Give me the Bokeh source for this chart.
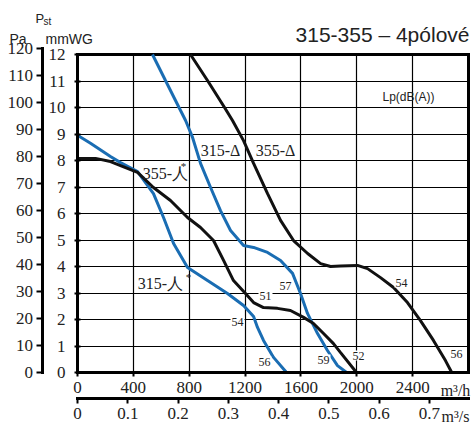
from bokeh.plotting import figure
from bokeh.models import Range1d, LinearAxis, Label, FixedTicker, Grid
from bokeh.embed import file_html
from bokeh.resources import INLINE

# ---------------- data ----------------
# airflow q [m3/h] vs static pressure [mmWG]
q_315_tri = [537, 630, 727, 774, 824, 881, 953, 1024, 1096, 1189, 1261, 1361, 1454,
             1540, 1597, 1647, 1719, 1790, 1862, 1927]
p_315_tri = [12.0, 11.02, 10.0, 9.51, 8.87, 7.89, 6.98, 6.11, 5.36, 4.79, 4.72, 4.53, 4.23,
             3.74, 2.98, 2.23, 1.47, 0.83, 0.26, 0.0]

q_355_tri = [809, 931, 1053, 1110, 1189, 1261, 1361, 1454, 1547, 1648, 1741, 1812, 1884,
             2005, 2077, 2170, 2263, 2363, 2456, 2549, 2635, 2680]
p_355_tri = [12.0, 11.02, 10.0, 9.51, 8.75, 7.89, 6.75, 5.74, 4.98, 4.49, 4.11, 4.0, 4.02,
             4.04, 3.92, 3.58, 3.21, 2.64, 1.96, 1.21, 0.45, 0.0]

q_315_star = [0, 93, 236, 308, 430, 544, 616, 688, 788, 931, 1074, 1189, 1261, 1289,
              1332, 1404, 1497]
p_315_star = [8.95, 8.65, 8.15, 7.92, 7.58, 6.75, 5.85, 4.87, 3.96, 3.47, 2.98, 2.53, 2.11, 1.70,
              1.21, 0.57, 0.0]

q_355_star = [0, 129, 236, 308, 430, 544, 666, 788, 881, 974, 1046, 1117, 1203, 1261, 1332,
              1432, 1525, 1619, 1690, 1762, 1833, 1884, 1998]
p_355_star = [8.08, 8.08, 7.96, 7.81, 7.55, 6.98, 6.49, 5.85, 5.47, 4.98, 4.23, 3.47, 2.98, 2.64,
              2.45, 2.42, 2.34, 2.08, 1.85, 1.47, 1.09, 0.75, 0.0]

# ticks
q_ticks = [0, 400, 800, 1200, 1600, 2000, 2400]
q_grid = [400, 800, 1200, 1600, 2000, 2400]
ms_ticks = [0, 0.1, 0.2, 0.3, 0.4, 0.5, 0.6, 0.7]
mm_ticks = list(range(0, 13))
mm_grid = list(range(1, 12))
pa_ticks = list(range(0, 130, 10))

Q_MAX = 2800
MM_MAX = 12
PA_MAX = 120
MMWG_TO_PA = 9.80665
M3H_TO_M3S = 1 / 3600

BLUE = "#1a6db3"
BLACK = "#111111"
TXT = "#222222"
NARROW = "Liberation Sans Narrow"
SANS = "Liberation Sans"

# page geometry: the figure fills the page; the chart box is placed inside it
W, H = 471, 429
PAGE_X0, PAGE_Y0 = 0, 0
BOX_X0, BOX_X1, BOX_Y0, BOX_Y1 = 77, 468, 54, 372   # page pixels of (0,12) .. (2800,0)
KX = Q_MAX / (BOX_X1 - BOX_X0)
KY = MM_MAX / (BOX_Y1 - BOX_Y0)
X0 = (PAGE_X0 - BOX_X0) * KX
X1 = (PAGE_X0 + W - BOX_X0) * KX
Y0 = (BOX_Y1 - (PAGE_Y0 + H)) * KY
Y1 = (BOX_Y1 - PAGE_Y0) * KY


def at(ix, iy):
    """page pixel -> data coordinates"""
    return ((ix - BOX_X0) * KX, (BOX_Y1 - iy) * KY)


p = figure(width=W, height=H, x_range=Range1d(X0, X1), y_range=Range1d(Y0, Y1),
           output_backend="svg", toolbar_location=None,
           x_axis_location=None, y_axis_location=None,
           min_border=0)
p.grid.visible = False
p.outline_line_color = None
p.background_fill_color = "white"
p.border_fill_color = "white"
p.extra_y_ranges = {"pa": Range1d(Y0 * MMWG_TO_PA, Y1 * MMWG_TO_PA)}
p.extra_x_ranges = {"ms": Range1d(X0 * M3H_TO_M3S, X1 * M3H_TO_M3S)}

# ---- grid and borders ----
for dim, ticks, cb, lw in [(0, q_grid, (0, MM_MAX), 1.2), (1, mm_grid, (0, Q_MAX), 1.2),
                           (0, [Q_MAX], (0, MM_MAX), 3), (1, [MM_MAX], (0, Q_MAX), 3)]:
    g = Grid(dimension=dim, ticker=FixedTicker(ticks=ticks), cross_bounds=cb,
             grid_line_color="black", grid_line_width=lw, grid_line_cap="square")
    p.add_layout(g)


def style_axis(ax, tin, tout, standoff, size="17px"):
    ax.axis_line_width = 3
    ax.axis_line_color = "black"
    ax.axis_line_cap = "square"
    ax.major_tick_line_color = "black"
    ax.major_tick_line_width = 2
    ax.major_tick_in = tin
    ax.major_tick_out = tout
    ax.minor_tick_line_color = None
    ax.major_label_standoff = standoff
    ax.major_label_text_font = NARROW
    ax.major_label_text_font_size = size
    ax.major_label_text_color = TXT


# mmWG axis (left edge of the box)
ax_mm = LinearAxis(ticker=FixedTicker(ticks=mm_ticks), bounds=(0, MM_MAX), fixed_location=0)
style_axis(ax_mm, 3, 3, 9)
p.add_layout(ax_mm, "left")

# Pa axis
ax_pa = LinearAxis(y_range_name="pa", ticker=FixedTicker(ticks=pa_ticks), bounds=(0, PA_MAX),
                   fixed_location=at(41.5, 0)[0])
style_axis(ax_pa, 0, 6, 3)
p.add_layout(ax_pa, "left")

# m3/h axis (bottom edge of the box)
ax_q = LinearAxis(ticker=FixedTicker(ticks=q_ticks), bounds=(0, Q_MAX), fixed_location=0)
style_axis(ax_q, 0, 4, 5)
p.add_layout(ax_q, "below")

# m3/s axis
ax_ms = LinearAxis(x_range_name="ms", ticker=FixedTicker(ticks=ms_ticks),
                   bounds=(0, Q_MAX * M3H_TO_M3S), fixed_location=at(0, 398)[1])
style_axis(ax_ms, 0, 5, 4)
ax_ms.major_label_overrides = {0: "0"}
p.add_layout(ax_ms, "below")

# ---- curves ----
p.line(q_315_star, p_315_star, line_color=BLUE, line_width=3)
p.line(q_315_tri, p_315_tri, line_color=BLUE, line_width=3)
p.line(q_355_star, p_355_star, line_color=BLACK, line_width=3)
p.line(q_355_tri, p_355_tri, line_color=BLACK, line_width=3)


def label(text, ix, iy, font=NARROW, size="16px", align="center", baseline="middle", bg=None,
          color=TXT):
    x, y = at(ix, iy)
    kw = {}
    if bg:
        kw = dict(background_fill_color=bg, padding=1)
    p.add_layout(Label(x=x, y=y, text=text, text_font=font, text_font_size=size,
                       text_align=align, text_baseline=baseline, text_color=color, **kw))


# curve names
label("315-Δ", 220, 150)
label("355-Δ", 275, 150)
label("355-人", 165, 173)
label("*", 183, 165, size="11px")
label("315-人", 160, 283)
label("*", 188, 276, size="11px")

# noise levels
for t, ix, iy in [("51", 265, 295), ("57", 285, 285), ("54", 237, 321), ("56", 264, 361),
                  ("59", 323, 359), ("52", 358, 355), ("54", 401, 282), ("56", 456, 353)]:
    label(t, ix, iy, size="12px", bg="white")

label("Lp(dB(A))", 408, 96, font=SANS, size="12px")

# outer texts
label("315-355 – 4pólové", 469, 34, font=SANS, size="21px", align="right", baseline="alphabetic")
label("P", 35, 18, font=SANS, size="13px", align="left", baseline="alphabetic")
label("st", 43, 21, font=SANS, size="10px", align="left", baseline="alphabetic")
label("Pa", 9, 38, font=SANS, size="14px", align="left", baseline="alphabetic")
label("mmWG", 45, 38, font=SANS, size="14px", align="left", baseline="alphabetic")
label("m³/h", 455, 390, size="16px")
label("m³/s", 455, 416, size="16px")

open("out.html", "w").write(file_html(p, INLINE))
